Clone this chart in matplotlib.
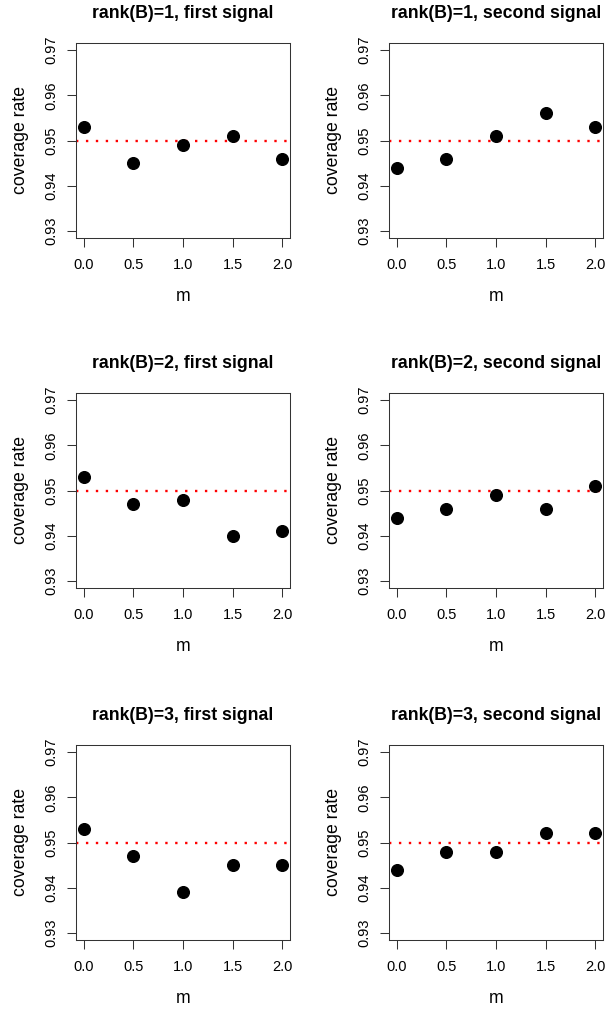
#!/usr/bin/env python3
"""Coverage rate vs m for three ranks of B, first and second signal."""

import matplotlib

matplotlib.use("Agg")
import matplotlib.pyplot as plt

m_values = [0.0, 0.5, 1.0, 1.5, 2.0]
nominal = 0.95

rank1_first = [0.953, 0.945, 0.949, 0.951, 0.946]
rank1_second = [0.944, 0.946, 0.951, 0.956, 0.953]
rank2_first = [0.953, 0.947, 0.948, 0.940, 0.941]
rank2_second = [0.944, 0.946, 0.949, 0.946, 0.951]
rank3_first = [0.953, 0.947, 0.939, 0.945, 0.945]
rank3_second = [0.944, 0.948, 0.948, 0.952, 0.952]

titles = [
    "rank(B)=1, first signal", "rank(B)=1, second signal",
    "rank(B)=2, first signal", "rank(B)=2, second signal",
    "rank(B)=3, first signal", "rank(B)=3, second signal",
]
series = [rank1_first, rank1_second, rank2_first, rank2_second, rank3_first, rank3_second]
x_ticks = [0.0, 0.5, 1.0, 1.5, 2.0]
x_tick_labels = ["0.0", "0.5", "1.0", "1.5", "2.0"]
y_ticks = [0.93, 0.94, 0.95, 0.96, 0.97]
y_tick_labels = ["0.93", "0.94", "0.95", "0.96", "0.97"]

plt.rcParams["font.family"] = ["Liberation Sans", "DejaVu Sans"]

W, H = 605, 1011
fig = plt.figure(figsize=(W / 100, H / 100), dpi=100)

# panel boxes in pixels: (left, top) for each column / row
col_left = [76, 389]
row_top = [43, 393, 745]
box_w, box_h = 214, 195

for i, (title, vals) in enumerate(zip(titles, series)):
    r, c = divmod(i, 2)
    left = col_left[c] / W
    bottom = 1 - (row_top[r] + box_h) / H
    ax = fig.add_axes([left, bottom, box_w / W, box_h / H])

    ax.axhline(nominal, color="#ff0000", lw=1.7, linestyle=(0, (1, 3.2)), zorder=1)
    ax.plot(m_values, vals, "o", color="black", ms=8.4, zorder=2)

    ax.set_xlim(-0.08, 2.08)
    ax.set_ylim(0.9284, 0.9716)
    ax.set_xticks(x_ticks)
    ax.set_xticklabels(x_tick_labels)
    ax.set_yticks(y_ticks)
    ax.set_yticklabels(y_tick_labels, rotation=90, va="center")
    ax.tick_params(axis="both", direction="out", length=6.2, width=0.75,
                   labelsize=10.5, color="#333333")
    ax.tick_params(axis="x", pad=8)
    ax.tick_params(axis="y", pad=6.5)
    for spine in ax.spines.values():
        spine.set_linewidth(0.75)
        spine.set_color("#333333")

    ax.set_xlabel("m", fontsize=12.7, labelpad=12)
    ax.set_ylabel("coverage rate", fontsize=12.7, labelpad=11)
    ax.set_title(title, fontsize=12.7, fontweight="bold", pad=18)

fig.savefig("out.png", dpi=100)
